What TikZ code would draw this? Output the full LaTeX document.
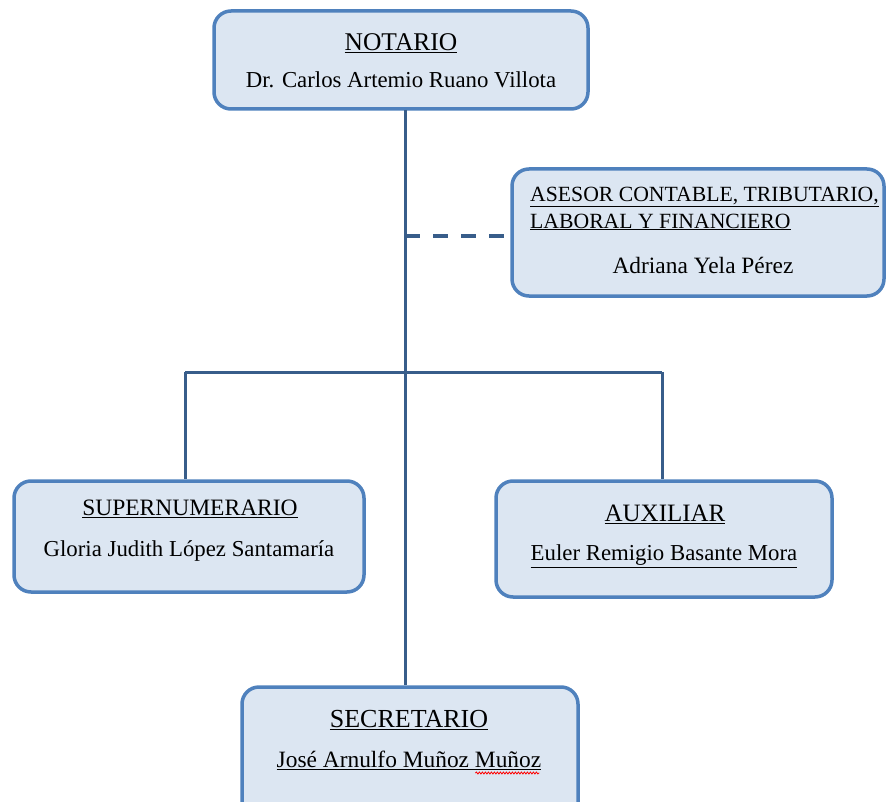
\documentclass[tikz,border=0pt]{standalone}
\usepackage{fontspec}
\setmainfont{Liberation Serif}
\usetikzlibrary{decorations.pathmorphing}
\definecolor{boxline}{RGB}{79,129,189}
\definecolor{boxfill}{RGB}{220,230,242}
\definecolor{linkline}{RGB}{56,93,138}
\tikzset{
  orgbox/.style={draw=boxline, fill=boxfill, line width=3.5pt, rounded corners=17pt,
                 inner sep=0pt},
  txt/.style={inner sep=0pt, font=\fontsize{22.8}{27}\selectfont, text=black},
  smalltxt/.style={inner sep=0pt, font=\fontsize{21.7}{25}\selectfont, text=black},
  link/.style={draw=linkline, line width=3pt},
  dashlink/.style={draw=linkline, line width=3.5pt, dash pattern=on 15pt off 13pt}
}
\begin{document}
\begin{tikzpicture}[x=1pt,y=-1pt]
\useasboundingbox (0,0) rectangle (888,802);
\clip (0,0) rectangle (888,802);

% boxes
\node[orgbox, minimum width=374pt, minimum height=98pt] (notario) at (401,60) {};
\node[orgbox, minimum width=372pt, minimum height=127pt] (asesor) at (698,232.5) {};
\node[orgbox, minimum width=350pt, minimum height=111pt] (super) at (189,536.5) {};
\node[orgbox, minimum width=336pt, minimum height=116pt] (aux) at (664,539) {};
\node[orgbox, minimum width=336pt, minimum height=140pt] (secr) at (410,757) {};

% connectors
\coordinate (trunk) at (405,110);
\coordinate (barL) at (185,372);
\coordinate (barR) at (662,372);
\coordinate (dashStart) at (405,236);
\draw[link] (trunk) -- (trunk |- secr.north);
\draw[link] (barL) -- (barR);
\draw[link] (barL) -- (barL |- super.north);
\draw[link] (barR) -- (barR |- aux.north);
\draw[dashlink] (dashStart) -- (dashStart -| asesor.west);

% texts
\node[txt, font=\fontsize{25.5}{30}\selectfont] (notarioT) at (401,43) {\underline{NOTARIO}};
\node[txt] (notarioN) at (401,80) {Dr. Carlos Artemio Ruano Villota};

\node[smalltxt, anchor=west] (asesorT1) at (530,197) {\underline{ASESOR CONTABLE, TRIBUTARIO,}};
\node[smalltxt, anchor=west] (asesorT2) at (530,222) {\underline{LABORAL Y FINANCIERO}};
\node[txt, font=\fontsize{23.4}{27}\selectfont] (asesorN) at (703,265) {Adriana Yela Pérez};

\node[txt, font=\fontsize{23.5}{28}\selectfont] (superT) at (190,509) {\underline{SUPERNUMERARIO}};
\node[txt] (superN) at (189,551) {Gloria Judith López Santamaría};

\node[txt, font=\fontsize{25}{30}\selectfont] (auxT) at (665,514) {\underline{AUXILIAR}};
\node[txt] (auxN) at (664,556) {\underline{Euler Remigio Basante Mora}};

\node[txt, font=\fontsize{26}{31}\selectfont] (secrT) at (409,720) {\underline{SECRETARIO}};
\node[txt, font=\fontsize{23.4}{28}\selectfont] (secrN) at (409,760) {\underline{José Arnulfo Muñoz Muñoz}};

% spelling mark under the last word
\draw[red, line width=0.8pt, decorate, decoration={snake, amplitude=1pt, segment length=3pt}]
  ([xshift=-66pt,yshift=-13pt]secrN.east) -- ([xshift=-2pt,yshift=-13pt]secrN.east);
\end{tikzpicture}
\end{document}
